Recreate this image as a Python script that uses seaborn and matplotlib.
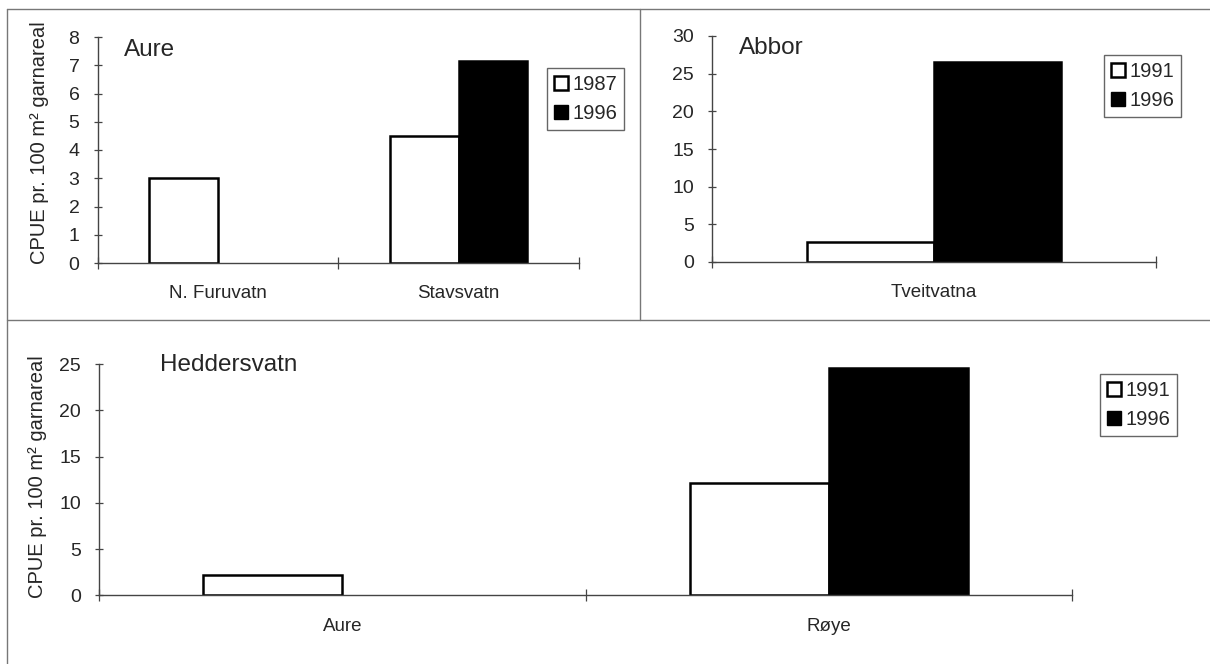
import numpy as np
import pandas as pd
import seaborn as sns
import matplotlib.pyplot as plt
from matplotlib.patches import Patch
from matplotlib.lines import Line2D

# ----- Data ----- #
aure_lakes = ["N. Furuvatn", "Stavsvatn", "Stavsvatn"]
aure_years = ["1987", "1987", "1996"]
aure_cpue = [3.0, 4.5, 7.15]

abbor_lakes = ["Tveitvatna", "Tveitvatna"]
abbor_years = ["1991", "1996"]
abbor_cpue = [2.6, 26.5]

hedd_species = ["Aure", "Røye", "Røye"]
hedd_years = ["1991", "1991", "1996"]
hedd_cpue = [2.2, 12.1, 24.6]

ylabel = "CPUE pr. 100 m² garnareal"

sns.set_style("white")
plt.rcParams['font.family'] = ['Liberation Sans', 'DejaVu Sans']

W, H = 1210, 664
fig = plt.figure(figsize=(W / 100, H / 100), dpi=100)


def px_axes(x0, x1, y_top, y_bot):
    # axes rect from pixel coordinates
    return fig.add_axes([x0 / W, 1 - y_bot / H, (x1 - x0) / W, (y_bot - y_top) / H])


def style_axis(ax, n_cat, ymax, ystep):
    ax.set_xlim(-0.5, n_cat - 0.5)
    ax.set_ylim(0, ymax)
    ax.set_yticks(np.arange(0, ymax + 0.01, ystep))
    ax.set_xticks(np.arange(n_cat + 1) - 0.5, minor=True)
    for s in ["top", "right"]:
        ax.spines[s].set_visible(False)
    for s in ["left", "bottom"]:
        ax.spines[s].set_color("#444444")
        ax.spines[s].set_linewidth(1.0)
    ax.tick_params(axis="y", direction="inout", length=6, width=0.9,
                   color="#444444", labelsize=14, pad=10, left=True)
    ax.tick_params(axis="x", which="major", length=0, labelsize=13.5, pad=16)
    ax.tick_params(axis="x", which="minor", direction="inout", length=9,
                   width=0.9, color="#444444", bottom=True)
    ax.set_xlabel("")
    ax.set_facecolor("none")


def add_legend(labels, x0, y0):
    handles = [Patch(facecolor="white", edgecolor="black", linewidth=1.8),
               Patch(facecolor="black", edgecolor="black")]
    fig.legend(handles, labels, loc="upper left",
               bbox_to_anchor=(x0 / W, 1 - y0 / H), borderaxespad=0,
               fontsize=14.5, frameon=True, fancybox=False, edgecolor="#666666",
               handlelength=0.7, handleheight=0.7, handletextpad=0.2,
               borderpad=0.35, labelspacing=0.5, framealpha=1)


def draw(ax, df, x, hue_order, order):
    sns.barplot(data=df, x=x, y="cpue", hue="year", order=order,
                hue_order=hue_order, palette=["white", "black"], saturation=1,
                edgecolor="black", linewidth=1.8, width=0.572, ax=ax,
                legend=False, errorbar=None)


# ----- Aure ----- #
ax1 = px_axes(97.5, 579, 37, 263)
df1 = pd.DataFrame({"lake": aure_lakes, "year": aure_years, "cpue": aure_cpue})
draw(ax1, df1, "lake", ["1987", "1996"], ["N. Furuvatn", "Stavsvatn"])
style_axis(ax1, 2, 8, 1)
ax1.set_ylabel(ylabel, fontsize=14.5)
ax1.yaxis.set_label_coords(49 / W, 1 - 143 / H, transform=fig.transFigure)
fig.text(124 / W, 1 - 50 / H, "Aure", fontsize=17.5, va="center", ha="left")
add_legend(["1987", "1996"], 547, 68)

# ----- Abbor ----- #
ax2 = px_axes(712, 1156, 36, 262)
df2 = pd.DataFrame({"lake": abbor_lakes, "year": abbor_years, "cpue": abbor_cpue})
draw(ax2, df2, "lake", ["1991", "1996"], ["Tveitvatna"])
style_axis(ax2, 1, 30, 5)
ax2.set_ylabel("")
fig.text(739 / W, 1 - 48 / H, "Abbor", fontsize=17.5, va="center", ha="left")
add_legend(["1991", "1996"], 1104, 55)

# ----- Heddersvatn ----- #
ax3 = px_axes(99, 1072, 364, 595.3)
df3 = pd.DataFrame({"species": hedd_species, "year": hedd_years, "cpue": hedd_cpue})
draw(ax3, df3, "species", ["1991", "1996"], ["Aure", "Røye"])
style_axis(ax3, 2, 25, 5)
ax3.set_ylabel(ylabel, fontsize=14.5)
ax3.yaxis.set_label_coords(47 / W, 1 - 477 / H, transform=fig.transFigure)
fig.text(160 / W, 1 - 365 / H, "Heddersvatn", fontsize=17.5, va="center", ha="left")
add_legend(["1991", "1996"], 1100, 374)

# ----- Panel frames ----- #
frame_kw = dict(color="#777777", linewidth=1.0, transform=fig.transFigure)
fig.add_artist(Line2D([7 / W, 7 / W], [0, 1 - 9 / H], **frame_kw))
fig.add_artist(Line2D([7 / W, 1], [1 - 9 / H, 1 - 9 / H], **frame_kw))
fig.add_artist(Line2D([640 / W, 640 / W], [1 - 9 / H, 1 - 320 / H], **frame_kw))
fig.add_artist(Line2D([7 / W, 1], [1 - 320 / H, 1 - 320 / H], **frame_kw))

fig.savefig("out.png", dpi=100)
